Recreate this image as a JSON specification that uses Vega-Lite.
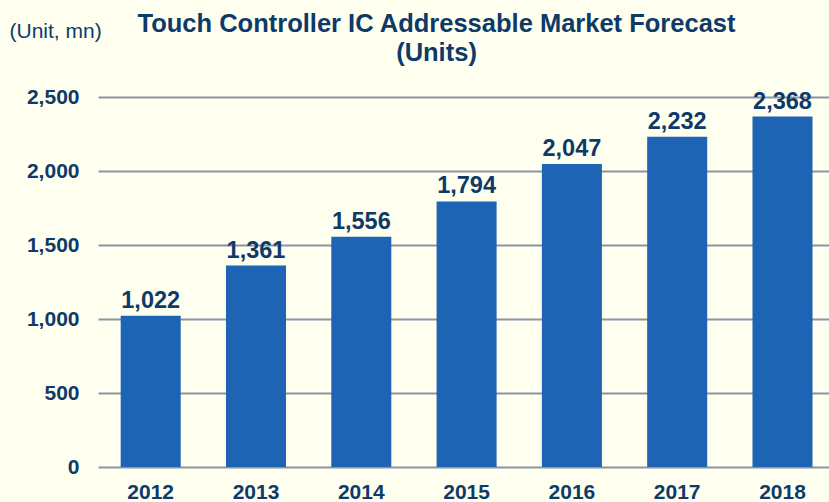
{
  "$schema": "https://vega.github.io/schema/vega-lite/v6.json",
  "autosize": "none",
  "width": 731,
  "height": 370,
  "padding": {"left": 98, "top": 97, "right": 0, "bottom": 35},
  "background": "#FFFFF0",
  "config": {"view": {"stroke": null}, "font": "Liberation Sans"},
  "title": {
    "text": ["Touch Controller IC Addressable Market Forecast", "(Units)"],
    "anchor": "middle",
    "frame": "group",
    "dx": -27,
    "offset": -46,
    "fontSize": 25.5,
    "fontWeight": "bold",
    "color": "#0E3A6A",
    "font": "Liberation Sans",
    "lineHeight": 29
  },
  "data": {
    "values": [
      {"year": "2012", "units": 1022},
      {"year": "2013", "units": 1361},
      {"year": "2014", "units": 1556},
      {"year": "2015", "units": 1794},
      {"year": "2016", "units": 2047},
      {"year": "2017", "units": 2232},
      {"year": "2018", "units": 2368}
    ]
  },
  "encoding": {
    "x": {
      "field": "year",
      "type": "nominal",
      "scale": {"paddingInner": 0.43, "paddingOuter": 0.186, "align": 0.579},
      "axis": {
        "title": null,
        "labelAngle": 0,
        "labelFontSize": 21,
        "labelFontWeight": "bold",
        "labelColor": "#0E3A6A",
        "labelPadding": 14,
        "ticks": false,
        "domain": false
      }
    },
    "y": {
      "field": "units",
      "type": "quantitative",
      "scale": {"domain": [0, 2500]},
      "axis": {
        "values": [0, 500, 1000, 1500, 2000, 2500],
        "format": ",.0f",
        "title": "(Unit, mn)",
        "titleAngle": 0,
        "titleAlign": "left",
        "titleBaseline": "middle",
        "titleX": -89,
        "titleY": -66,
        "titleFontSize": 21,
        "titleFontWeight": "normal",
        "titleColor": "#0E3A6A",
        "labelFontSize": 21,
        "labelFontWeight": "bold",
        "labelColor": "#0E3A6A",
        "labelPadding": 19,
        "ticks": false,
        "domain": false,
        "grid": true,
        "gridColor": "#8C93A3",
        "gridWidth": 2
      }
    }
  },
  "layer": [
    {"mark": {"type": "bar", "color": "#1E64B4"}},
    {
      "mark": {
        "type": "text",
        "baseline": "alphabetic",
        "dy": -8,
        "fontSize": 23.5,
        "fontWeight": "bold",
        "color": "#0E3A6A"
      },
      "encoding": {"text": {"field": "units", "type": "quantitative", "format": ",.0f"}}
    }
  ]
}
